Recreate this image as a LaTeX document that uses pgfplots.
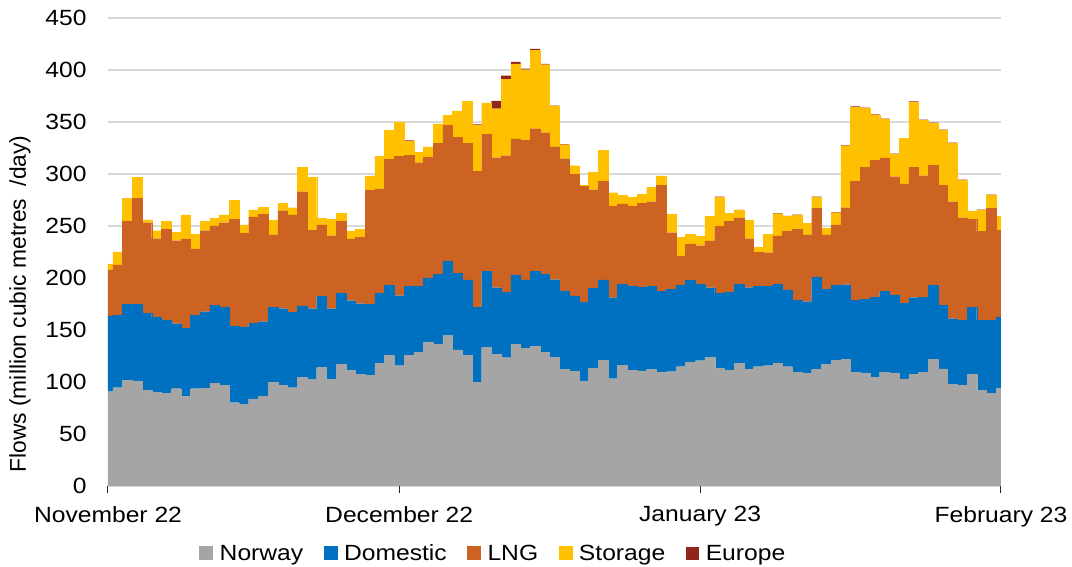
\documentclass[border=0pt]{standalone}
\usepackage{fontspec}
\setmainfont{Liberation Sans}[FakeStretch=1.12]
\newfontfamily\ylabfont{Liberation Sans}
\usepackage{pgfplots}
\usepackage{pgfplotstable}
\pgfplotsset{compat=1.18}
\definecolor{cN}{RGB}{165,165,165}
\definecolor{cD}{RGB}{0,112,192}
\definecolor{cL}{RGB}{205,99,34}
\definecolor{cS}{RGB}{255,192,0}
\definecolor{cE}{RGB}{145,37,27}
\definecolor{gridc}{RGB}{217,217,217}
\pgfplotsset{sq/.style={legend image code/.code={\fill[##1] (0pt,-6pt) rectangle (13pt,7pt); \path (18pt,0pt);}}}
\pgfplotstableread{
i N D L S E
0 90.7 72.8 44.2 5.8 0
1 94.5 69.9 48.1 12.5 0
2 101.9 72.8 79.5 22.7 0
3 101.0 73.7 102.2 20.2 0
4 92.0 74.0 87.2 2.6 0
5 90.1 72.4 75.3 7.7 0
6 89.1 70.5 86.9 7.7 0
7 93.6 62.5 79.8 8.3 0
8 86.2 65.1 86.2 23.1 0
9 93.6 70.8 63.5 14.1 0
10 94.2 73.4 77.9 9.3 0
11 99.0 75.0 76.0 7.7 0
12 96.8 74.7 81.7 7.4 0
13 80.1 73.7 102.9 18.0 0
14 78.5 74.4 90.1 8.0 0
15 83.7 72.7 102.3 6.7 0
16 86.5 71.5 103.5 6.5 0
17 99.7 71.8 69.9 14.4 0
18 96.8 73.7 94.2 6.8 0
19 94.5 72.8 93.3 7.0 0
20 104.2 68.9 109.9 23.7 0
21 102.6 67.9 75.3 51.3 0
22 113.8 68.6 68.6 6.4 0
23 102.6 67.9 70.2 16.0 0
24 117.3 68.0 68.9 8.0 0
25 111.5 66.7 59.3 7.1 0
26 107.4 67.9 64.1 7.7 0
27 106.4 68.3 109.3 14.1 0
28 117.9 67.4 100.3 31.4 0
29 125.6 67.3 121.2 27.9 0
30 115.7 67.3 133.7 33.0 0
31 125.9 66.4 125.6 13.8 0.7
32 128.5 63.8 118.6 9.9 0
33 138.5 61.5 116.0 10.0 0
34 136.5 67.3 126.0 18.3 0
35 144.9 71.5 130.1 9.9 0
36 130.8 73.7 130.8 25.3 0
37 125.6 72.5 131.1 40.4 0
38 99.7 71.8 130.8 44.5 1.0
39 133.3 73.4 131.4 30.2 0
40 126.6 64.1 125.0 47.1 7.4
41 123.4 62.8 131.4 73.4 3.5
42 136.2 66.7 130.8 72.1 1.9
43 132.4 65.7 134.0 68.2 1.0
44 134.0 72.7 136.9 75.6 1.0
45 128.5 75.0 136.2 65.4 0.7
46 124.0 74.4 127.6 39.1 0.6
47 112.2 75.3 127.2 13.5 0.6
48 110.3 72.4 116.7 8.6 0
49 101.0 75.3 111.8 0.7 0.5
50 113.2 76.9 94.8 16.4 0
51 120.8 77.3 94.9 29.8 0
52 103.2 77.9 88.1 12.8 0
53 116.0 78.2 77.0 8.6 0
54 111.2 80.5 77.2 9.0 0
55 110.6 80.4 80.8 8.6 0
56 112.2 80.1 81.1 13.5 0
57 109.0 77.9 102.2 9.0 0
58 109.9 78.9 54.8 17.9 0
59 114.7 78.2 28.3 17.9 0
60 118.9 79.2 34.6 9.6 0
61 120.5 73.4 37.2 8.7 0
62 124.0 66.7 44.9 23.4 0.6
63 113.2 72.1 64.1 28.2 0.6
64 111.2 75.3 68.3 7.4 0
65 117.9 76.0 63.8 7.4 0.5
66 112.2 78.5 47.1 17.6 0
67 114.7 77.2 32.8 5.1 0
68 115.7 76.2 32.4 17.4 0.5
69 117.9 76.3 46.2 21.4 0.6
70 114.7 73.8 56.4 14.4 0.5
71 109.0 69.5 68.6 13.2 0.6
72 108.3 68.9 64.2 11.2 0
73 112.2 88.4 66.4 10.6 0.6
74 117.3 72.1 52.0 6.7 0
75 120.8 72.1 58.1 11.8 0.6
76 121.8 71.8 74.0 59.6 0.6
77 109.6 68.9 114.5 71.4 0.6
78 108.7 71.1 126.9 56.4 0.6
79 104.5 77.2 131.4 43.9 0.6
80 109.6 77.3 128.5 37.2 0.6
81 108.7 75.0 113.7 21.5 0.6
82 102.9 72.7 114.8 43.6 0.6
83 107.4 73.7 125.6 62.5 0.6
84 109.0 72.7 116.7 53.2 0.6
85 122.1 70.8 115.4 40.4 0.6
86 112.5 61.2 115.7 52.6 0.6
87 97.8 63.1 112.5 56.1 0.6
88 96.8 62.8 98.4 35.9 0.6
89 107.1 64.7 84.6 7.4 0.6
90 92.3 67.3 85.0 20.5 0.6
91 89.1 69.9 108.0 12.5 0.6
92 94.2 68.0 83.6 13.2 0.6
}\flows
\begin{document}
\begin{tikzpicture}
\useasboundingbox (0,0) rectangle (1072pt,567pt);
\begin{axis}[
  at={(108pt,81pt)}, anchor=south west,
  scale only axis, width=893pt, height=468pt,
  xmin=0, xmax=92, ymin=0, ymax=450,
  ybar stacked, bar width=1,
  font=\fontsize{22}{26}\selectfont,
  /pgf/number format/assume math mode=true,
  ytick={0,50,...,450},
  xtick={0,30,61,92},
  xticklabels={November 22, December 22, January 23, February 23},
  ymajorgrids, grid style={gridc, line width=1.3pt},
  axis x line*=bottom, axis y line*=left,
  y axis line style={draw=none},
  x axis line style={black!85, line width=1pt},
  tick align=outside, major tick length=7pt,
  xtick style={black!85, line width=1pt},
  ytick style={draw=none},
  yticklabel style={anchor=east, xshift=-11pt},
  xticklabel style={yshift=-10pt},
  ylabel={\ylabfont\fontsize{22.8}{26}\selectfont Flows (million cubic metres\ \ /day)},
  ylabel style={at={(axis description cs:-0.0985,0.389)}, anchor=center},
  legend columns=-1,
  legend style={at={(axis description cs:0.4315,-0.1445)}, anchor=center, draw=none, fill=none,
    /tikz/every even column/.append style={column sep=18.5pt}},
]
\addplot[fill=cN, draw=cN, line width=0.3pt, sq] table[x=i, y=N]{\flows};
\addplot[fill=cD, draw=cD, line width=0.3pt, sq] table[x=i, y=D]{\flows};
\addplot[fill=cL, draw=cL, line width=0.3pt, sq] table[x=i, y=L]{\flows};
\addplot[fill=cS, draw=cS, line width=0.3pt, sq] table[x=i, y=S]{\flows};
\addplot[fill=cE, draw=none, sq] table[x=i, y=E]{\flows};
\legend{Norway, Domestic, LNG, Storage, Europe}
\end{axis}
\end{tikzpicture}
\end{document}
